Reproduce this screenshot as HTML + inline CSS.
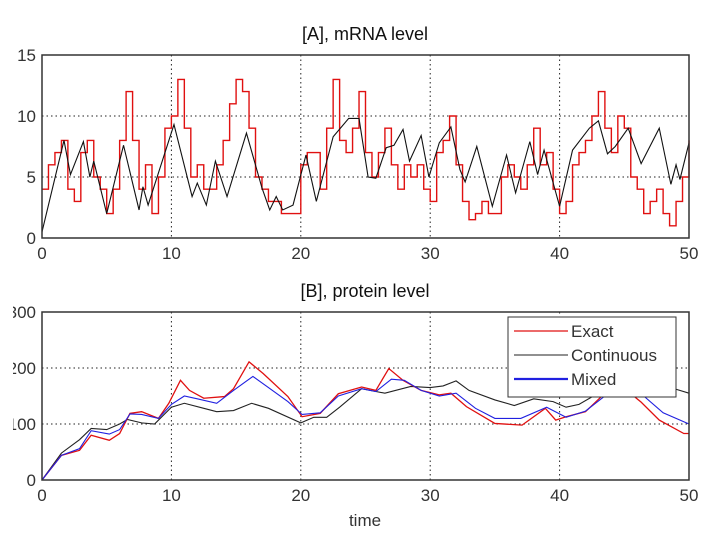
<!DOCTYPE html>
<html><head><meta charset="utf-8"><style>
body{margin:0;background:#fff;}
svg{display:block;font-family:"Liberation Sans",sans-serif;}
</style></head><body>
<svg id="c" width="720" height="540" viewBox="0 0 720 540">
<text x="365" y="40" text-anchor="middle" font-size="18" fill="#111">[A], mRNA level</text>
<text x="365" y="297" text-anchor="middle" font-size="18" fill="#111">[B], protein level</text>
<text x="365" y="526" text-anchor="middle" font-size="17" fill="#333">time</text>
<g id="gA"></g><g id="gB"></g>
</svg>
<script>
const NS='http://www.w3.org/2000/svg';
const xTicks=[0,10,20,30,40,50];
const yTicksA=[0,5,10,15];
const yTicksB=[0,100,200,300];
const yTickLabelsB=['0','100','200','300'];
const redStep=0.5;
const redA=[4,6,7,8,4,3,7,8,5,4,2,4,8,12,8,4,6,2,5,9,10,13,9,5,6,4,4,6,8,11,13,12,9,5,4,3,3,2,2,2,6,7,7,4,9,13,8,7,9,12,7,5,7,9,6,4,6,5,6,4,3,7,8,10,6,3,1.5,2,3,2,2,5,6,5,4,6,9,6,7,4,2,3,6,7,8,10,12,9,7,10,9,5,4,2,3,4,2,1,3,5,8];
const blackAt=[0,1.7,2.2,3.2,3.7,4,5,6.3,7.5,7.8,8.2,10.2,11.6,12,12.7,13.4,14.3,15.8,17,17.6,18.1,18.6,19.4,20.4,21.2,22.5,23.7,24.5,25.2,25.8,26.6,27.2,27.9,28.4,29.3,29.9,30.7,31.6,32.3,32.7,33.6,34.8,35.9,36.6,37.7,38.3,38.8,40,41,42.3,43,43.7,44.3,45.3,46.3,47.7,48.6,49,49.3,50];
const blackA=[0.5,8,5.2,7.9,5,6.3,2,7.6,2.3,4.2,2.7,9.3,3.4,4.5,2.7,6.3,3.4,8.6,4.1,2.3,3.4,2.3,2.7,6.8,3,8.3,9.8,9.8,5,4.9,7.4,7.6,8.9,6.3,8.4,5,7.8,9.1,5.6,4.6,7.5,2.6,6.8,3.7,7.9,5.2,7.2,2.6,7.2,9,9.6,6.9,7.5,9,6.1,9,4.4,6,4.8,7.8];
const exactT=[0,1.5,2.9,3.8,5.2,6,6.8,7.7,9,9.8,10.7,11.4,12.5,14.1,14.8,16,17.1,19,20.1,21.5,22.9,24.7,25.8,26.8,27.9,29.3,30.7,31.6,32.8,35,37.1,38.9,39.7,40.5,42,43.5,45.2,46.3,47.7,49.6,50];
const exactB=[0,44,53,80,71,83,119,122,110,137,178,160,146,149,163,211,190,149,113,119,154,166,160,199,178,160,152,155,131,101,98,128,107,113,122,155,160,139,107,83,83];
const mixedT=[0,1.5,2.9,3.8,5.2,6,6.8,7.7,9,10,11,12,13.5,14.8,16.3,17.5,19,20.1,21.5,22.9,24.7,25.8,27,28,29.3,30.7,32,33.5,35,37,39,40.5,42,43.5,45,46.5,48,50];
const mixedB=[0,44,56,88,82,90,118,117,110,135,150,145,137,160,185,165,140,117,120,150,163,158,180,178,160,150,155,128,110,110,130,112,123,150,160,150,120,100];
const contT=[0,1.5,2.9,3.8,5,6,6.6,7.7,8.7,10,11,12.5,13.5,14.8,16.2,17.5,20,21,22,23,24.7,25.8,26.5,28.5,30,31,32,33,35,36.5,38,39.5,40.5,41.5,43,45,47.5,49,50];
const contB=[0,48,72,92,90,100,108,102,100,130,137,128,122,124,137,128,102,112,112,130,163,158,155,167,165,168,177,160,143,133,145,140,130,135,155,165,175,162,155];

function el(tag,attrs,parent){const e=document.createElementNS(NS,tag);for(const k in attrs)e.setAttribute(k,attrs[k]);parent.appendChild(e);return e;}
const X0=42,X1=689;
const sx=t=>X0+(X1-X0)*t/50;
function panel(g,top,bot,ymax,yt,ylabs,name){
  const sy=v=>bot-(bot-top)*v/ymax;
  xTicks.forEach(t=>{if(t>0&&t<50){const l=el('line',{x1:sx(t),x2:sx(t),y1:top,y2:bot,stroke:'#222','stroke-dasharray':'1.5,3','stroke-width':1},g);}
    const tx=el('text',{x:sx(t),y:bot+21,'text-anchor':'middle','font-size':17,fill:'#333'},g);tx.textContent=t;});
  yt.forEach((v,i)=>{if(v>0&&v<ymax){const l=el('line',{x1:X0,x2:X1,y1:sy(v),y2:sy(v),stroke:'#222','stroke-dasharray':'1.5,3','stroke-width':1},g);}
    const tx=el('text',{x:36,y:sy(v)+6,'text-anchor':'end','font-size':17,fill:'#333'},g);tx.textContent=ylabs[i];});
  return sy;
}
const gA=document.getElementById('gA'),gB=document.getElementById('gB');
const syA=panel(gA,55,238,15,yTicksA,yTicksA.map(String),'a');
let d='';redA.forEach((v,i)=>{const t=Math.min(50,i*redStep);d+=(i?'L'+sx(t)+' '+syA(redA[i-1])+'L':'M')+sx(t)+' '+syA(v);});
let p=el('path',{d:d,fill:'none',stroke:'#e01010','stroke-width':1.4},gA);

d=blackAt.map((t,i)=>(i?'L':'M')+sx(t)+' '+syA(blackA[i])).join('');
p=el('path',{d:d,fill:'none',stroke:'#111','stroke-width':1.1},gA);

let r=el('rect',{x:X0,y:55,width:X1-X0,height:183,fill:'none',stroke:'#333','stroke-width':1.5},gA);


const syB=panel(gB,312,480,300,yTicksB,yTickLabelsB,'b');
const clip=el('clipPath',{id:'cl'},gB);el('rect',{x:13,y:290,width:34,height:210},clip);
gB.querySelectorAll('text').forEach(t=>{if(t.getAttribute('text-anchor')==='end')t.setAttribute('clip-path','url(#cl)');});
function line(T,V,col,w,name){const dd=T.map((t,i)=>(i?'L':'M')+sx(t)+' '+syB(V[i])).join('');const q=el('path',{d:dd,fill:'none',stroke:col,'stroke-width':w},gB);}
line(contT,contB,'#222',1.1,'protein-continuous-line');
line(exactT,exactB,'#e01010',1.3,'protein-exact-line');
line(mixedT,mixedB,'#2020e0',1.1,'protein-mixed-line');
r=el('rect',{x:X0,y:312,width:X1-X0,height:168,fill:'none',stroke:'#333','stroke-width':1.5},gB);

const lg=el('g',{},gB);
el('rect',{x:508,y:317,width:168,height:80,fill:'#fff',stroke:'#333','stroke-width':1},lg);
[['Exact','#e01010',1.2],['Continuous','#222',1.1],['Mixed','#2020e0',2.2]].forEach((e,i)=>{const y=331+i*24;
 const le=el('g',{},lg);
 el('line',{x1:514,x2:568,y1:y,y2:y,stroke:e[1],'stroke-width':e[2]},le);
 const tx=el('text',{x:571,y:y+6,'font-size':17,fill:'#333'},le);tx.textContent=e[0];});
</script>
</body></html>
